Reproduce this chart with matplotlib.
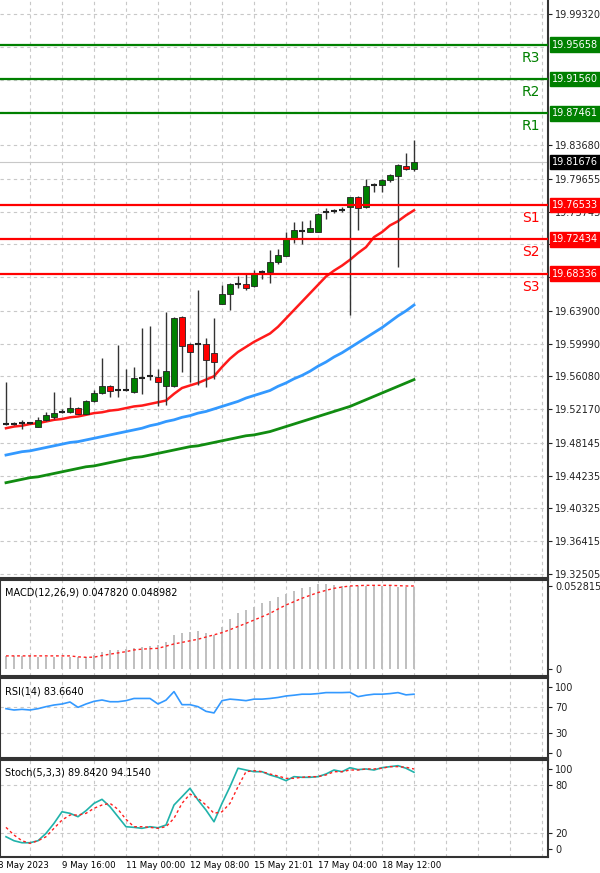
import matplotlib; matplotlib.use('Agg')
import matplotlib.pyplot as plt
import matplotlib.transforms as mtransforms
import numpy as np

# --- data (52 candles) ---
opens = [19.5045, 19.5045, 19.5052, 19.5052, 19.5005, 19.5084, 19.5124, 19.5184, 19.5184, 19.5236,
         19.5164, 19.5315, 19.5411, 19.5491, 19.5443, 19.5451, 19.5423, 19.5590, 19.5610, 19.5602,
         19.5491, 19.5491, 19.6318, 19.5999, 19.5992, 19.5999, 19.5888, 19.6469, 19.6597, 19.6716,
         19.6708, 19.6688, 19.6848, 19.6856, 19.6975, 19.7047, 19.7254, 19.7345, 19.7333, 19.7333,
         19.7572, 19.7580, 19.7592, 19.7624, 19.7743, 19.7624, 19.7886, 19.7890, 19.7950, 19.7998,
         19.8121, 19.8077]
closes = [19.5045, 19.5045, 19.5052, 19.5052, 19.5092, 19.5144, 19.5172, 19.5184, 19.5236, 19.5164,
          19.5315, 19.5411, 19.5491, 19.5435, 19.5443, 19.5451, 19.5594, 19.5590, 19.5610, 19.5542,
          19.5673, 19.6310, 19.5968, 19.5900, 19.5992, 19.5801, 19.5781, 19.6589, 19.6716, 19.6716,
          19.6668, 19.6836, 19.6848, 19.6975, 19.7055, 19.7242, 19.7353, 19.7345, 19.7373, 19.7544,
          19.7572, 19.7580, 19.7592, 19.7743, 19.7612, 19.7878, 19.7886, 19.7950, 19.8010, 19.8129,
          19.8082, 19.8168]
highs = [19.5542, 19.5060, 19.5084, 19.5070, 19.5124, 19.5184, 19.5423, 19.5224, 19.5363, 19.5240,
         19.5323, 19.5443, 19.5833, 19.5502, 19.5980, 19.5701, 19.5721, 19.6187, 19.6207, 19.5701,
         19.6378, 19.6318, 19.6326, 19.6007, 19.6637, 19.6071, 19.6310, 19.6696, 19.6720, 19.6808,
         19.6836, 19.6876, 19.6876, 19.7122, 19.7126, 19.7333, 19.7453, 19.7460, 19.7472, 19.7552,
         19.7612, 19.7604, 19.7624, 19.7751, 19.7759, 19.7962, 19.7918, 19.7958, 19.8022, 19.8137,
         19.8269, 19.8427]
lows = [19.5025, 19.5030, 19.4985, 19.5040, 19.5000, 19.5080, 19.5104, 19.5170, 19.5175, 19.5160,
        19.5160, 19.5300, 19.5400, 19.5363, 19.5363, 19.5440, 19.5410, 19.5403, 19.5560, 19.5252,
        19.5264, 19.5480, 19.5662, 19.5542, 19.5502, 19.5482, 19.5580, 19.6469, 19.6406, 19.6657,
        19.6645, 19.6676, 19.6776, 19.6724, 19.6955, 19.7040, 19.7202, 19.7186, 19.7330, 19.7330,
        19.7484, 19.7560, 19.7570, 19.6338, 19.7353, 19.7620, 19.7811, 19.7811, 19.7930, 19.6913,
        19.8070, 19.8062]

ma_red = [19.499, 19.501, 19.502, 19.504, 19.505, 19.507, 19.509, 19.510, 19.512, 19.513,
          19.515, 19.517, 19.518, 19.520, 19.521, 19.523, 19.525, 19.526, 19.528, 19.530,
          19.532, 19.540, 19.547, 19.550, 19.553, 19.557, 19.561, 19.572, 19.582, 19.590,
          19.596, 19.602, 19.607, 19.612, 19.620, 19.630, 19.640, 19.650, 19.660, 19.670,
          19.680, 19.687, 19.693, 19.700, 19.708, 19.715, 19.727, 19.733, 19.741, 19.746,
          19.753, 19.759]
ma_blue = [19.467, 19.469, 19.471, 19.472, 19.474, 19.476, 19.478, 19.480, 19.482, 19.483,
           19.485, 19.487, 19.489, 19.491, 19.493, 19.495, 19.497, 19.499, 19.502, 19.504,
           19.507, 19.509, 19.512, 19.514, 19.517, 19.519, 19.522, 19.525, 19.528, 19.531,
           19.535, 19.538, 19.541, 19.544, 19.549, 19.553, 19.558, 19.562, 19.567, 19.573,
           19.578, 19.584, 19.589, 19.595, 19.601, 19.607, 19.613, 19.619, 19.626, 19.633,
           19.639, 19.646]
ma_green = [19.434, 19.436, 19.438, 19.440, 19.441, 19.443, 19.445, 19.447, 19.449, 19.451,
            19.453, 19.454, 19.456, 19.458, 19.460, 19.462, 19.464, 19.465, 19.467, 19.469,
            19.471, 19.473, 19.475, 19.477, 19.478, 19.480, 19.482, 19.484, 19.486, 19.488,
            19.490, 19.491, 19.493, 19.495, 19.498, 19.501, 19.504, 19.507, 19.510, 19.513,
            19.516, 19.519, 19.522, 19.525, 19.529, 19.533, 19.537, 19.541, 19.545, 19.549,
            19.553, 19.557]

levels = {'R3': 19.95658, 'R2': 19.91560, 'R1': 19.87461,
          'S1': 19.76533, 'S2': 19.72434, 'S3': 19.68336}
last_price = 19.81676
price_ticks = [19.99320, 19.83680, 19.79655, 19.75745, 19.71835, 19.67925, 19.63900, 19.59990,
               19.56080, 19.52170, 19.48145, 19.44235, 19.40325, 19.36415, 19.32505]
hidden_grid = [19.87590, 19.91500, 19.95410]

macd_hist = [0.0083] * 4 + [0.0074] * 7 + [
    0.0088, 0.0110, 0.0121, 0.0121, 0.0127, 0.0136, 0.0142, 0.0146, 0.0153, 0.0174,
    0.0216, 0.0231, 0.0237, 0.0242, 0.0227, 0.0216, 0.0269, 0.0316, 0.0354, 0.0375,
    0.0396, 0.0418, 0.0434, 0.0460, 0.0477, 0.0498, 0.0513, 0.0524, 0.0541, 0.0541,
    0.0534] + [0.0528] * 7 + [0.0519] * 3
macd_signal = [0.0083] * 9 + [
    0.0077, 0.0074, 0.0075, 0.0085, 0.0094, 0.0102, 0.0110, 0.0121, 0.0126, 0.0129,
    0.0131, 0.0145, 0.0159, 0.0169, 0.0179, 0.0189, 0.0203, 0.0217, 0.0231, 0.0250,
    0.0270, 0.0290, 0.0311, 0.0332, 0.0354, 0.0381, 0.0407, 0.0428, 0.0450, 0.0468,
    0.0486, 0.0500, 0.0513, 0.0521, 0.0528, 0.0530, 0.0532, 0.0532, 0.0532, 0.0532,
    0.0530, 0.0528, 0.0528]

rsi = [67, 65, 66, 65, 67, 70, 72.5, 74, 77, 69, 74, 78, 80, 77.4, 77.4, 79, 82.3, 82.3, 82.3, 74,
       79.8, 92.6, 73, 73, 70, 63, 60.6, 79, 81.3, 80.3, 79, 81.3, 81.3, 82.3, 83.8, 86, 87.2, 88.7,
       88.7, 89.6, 91.1, 91.1, 91.1, 91.5, 85, 87.2, 88.7, 88.7, 89.6, 91.1, 87.7, 88.7]

stoch_k = [15.8, 10.8, 8.3, 8.3, 10.8, 20, 32.5, 47, 45, 40.8, 48.3, 57.5, 62.5, 53.3, 40.8, 28.3,
           27.5, 26.3, 28.3, 27, 30.4, 55.4, 65.8, 76.3, 61.6, 49.1, 34.5, 57.5, 78.3, 101.3, 99.1,
           97, 97, 92.9, 90, 85.8, 90.8, 90, 90, 90.8, 94.1, 99.1, 97, 102, 99.6, 100.4, 99.1, 102,
           103.3, 104.5, 101.3, 96.3]
stoch_d = [27.5, 17.9, 10.8, 7.5, 10.8, 15.8, 26.3, 36.6, 42.9, 42.9, 45, 51.3, 55.4, 57.5, 50,
           37.5, 28.3, 28.3, 27.5, 26.3, 28.3, 38.8, 57.5, 69.1, 63.8, 55.4, 45, 47, 57.5, 78.3, 97,
           98.3, 97, 94.1, 91.6, 88.7, 88.7, 90, 90.8, 90.8, 92.9, 97, 97, 99.1, 99.1, 100.4, 100.4,
           101.3, 103.3, 103.3, 102.5, 100.4]

date_labels = ['8 May 2023', '9 May 16:00', '11 May 00:00', '12 May 08:00',
               '15 May 21:01', '17 May 04:00', '18 May 12:00']
date_idx = [-1, 7, 15, 23, 31, 39, 47]

# --- layout ---
W, H = 600, 873
fig = plt.figure(figsize=(W / 100, H / 100), dpi=100)
fig.patch.set_facecolor('white')

def px_axes(top, bottom):
    return fig.add_axes([0, 1 - bottom / H, 548 / W, (bottom - top) / H])

ax = px_axes(0, 578)
ax_macd = px_axes(580, 676)
ax_rsi = px_axes(678, 758)
ax_st = px_axes(760, 857)

x = np.arange(len(closes))
xlim = (-0.75, 67.75)
vgrid = np.arange(3, 68, 4)
GRID = dict(color='#c8c8c8', ls=(0, (3, 3)), lw=0.8)

for a in (ax, ax_macd, ax_rsi, ax_st):
    a.set_xlim(*xlim)
    a.set_xticks([])
    for v in vgrid:
        a.axvline(v, zorder=0, **GRID)
    a.yaxis.tick_right()
    a.tick_params(axis='y', labelsize=7, length=3, pad=2, colors='#222222')
    for s in a.spines.values():
        s.set_color('#333333'); s.set_linewidth(1.5)

# main panel
ax.set_ylim(19.3203, 20.0099)
ax.set_yticks(price_ticks)
ax.set_yticklabels([f'{p:.5f}' for p in price_ticks])
for p in price_ticks + hidden_grid:
    ax.axhline(p, zorder=0, **GRID)
ax.spines['left'].set_visible(False)
ax.spines['top'].set_visible(False)

ax.plot(x, ma_green, color='#118c11', lw=2, zorder=3)
ax.plot(x, ma_blue, color='#3399ff', lw=2, zorder=3)
ax.plot(x, ma_red, color='#ff1a1a', lw=1.8, zorder=3)

for i in x:
    o, c, h, l = opens[i], closes[i], highs[i], lows[i]
    ax.vlines(i, l, h, color='#333333', lw=1, zorder=4)
    if abs(c - o) < 1e-4:
        ax.hlines(c, i - 0.35, i + 0.35, color='#222222', lw=1.5, zorder=5)
    else:
        col = '#008000' if c > o else '#ff0000'
        ax.bar(i, c - o, bottom=o, width=0.65, color=col, edgecolor='#222222', lw=0.6, zorder=5)

trans = mtransforms.blended_transform_factory(ax.transAxes, ax.transData)
ax.axhline(last_price, color='#c8c8c8', lw=0.8, zorder=1)
for name, val in levels.items():
    col = '#008000' if name.startswith('R') else '#ff0000'
    ax.axhline(val, color=col, lw=1.6, zorder=6)
    ax.text(0.985, val - 0.007, name, transform=trans, ha='right', va='top', color=col, fontsize=10)
    ax.text(1.008, val, f'{val:.5f}', transform=trans, va='center', ha='left', fontsize=7,
            color='white', bbox=dict(fc=col, ec=col, pad=1.6), clip_on=False, zorder=10)
ax.text(1.008, last_price, f'{last_price:.5f}', transform=trans, va='center', ha='left', fontsize=7,
        color='white', bbox=dict(fc='black', ec='black', pad=1.6), clip_on=False, zorder=10)

# MACD
ax_macd.set_ylim(-0.0045, 0.0566)
ax_macd.set_yticks([0, 0.052815])
ax_macd.set_yticklabels(['0', '0.052815'])
ax_macd.bar(x, macd_hist, width=0.25, color='#c0c0c0', zorder=2)
ax_macd.plot(x, macd_signal, color='#ff2020', lw=1, ls=(0, (2, 2)), zorder=3)
ax_macd.text(0.01, 0.92, 'MACD(12,26,9) 0.047820 0.048982', transform=ax_macd.transAxes,
             fontsize=7, va='top')

# RSI
ax_rsi.set_ylim(-7, 113)
ax_rsi.set_yticks([0, 30, 70, 100])
for v in (30, 70):
    ax_rsi.axhline(v, zorder=0, **GRID)
ax_rsi.plot(x, rsi, color='#3399ff', lw=1.2)
ax_rsi.text(0.01, 0.9, 'RSI(14) 83.6640', transform=ax_rsi.transAxes, fontsize=7, va='top')

# Stochastic
ax_st.set_ylim(-9.5, 111.6)
ax_st.set_yticks([0, 20, 80, 100])
for v in (20, 80):
    ax_st.axhline(v, zorder=0, **GRID)
ax_st.plot(x, stoch_k, color='#20b2aa', lw=1.2)
ax_st.plot(x, stoch_d, color='#ff2020', lw=1, ls=(0, (2, 2)))
ax_st.text(0.01, 0.92, 'Stoch(5,3,3) 89.8420 94.1540', transform=ax_st.transAxes, fontsize=7, va='top')

dtrans = mtransforms.blended_transform_factory(ax_st.transData, ax_st.transAxes)
for lab, i in zip(date_labels, date_idx):
    ax_st.text(i, -0.04, lab, transform=dtrans, ha='left', va='top', fontsize=6.2, clip_on=False)

fig.savefig('out.png', dpi=100)
plt.close()
